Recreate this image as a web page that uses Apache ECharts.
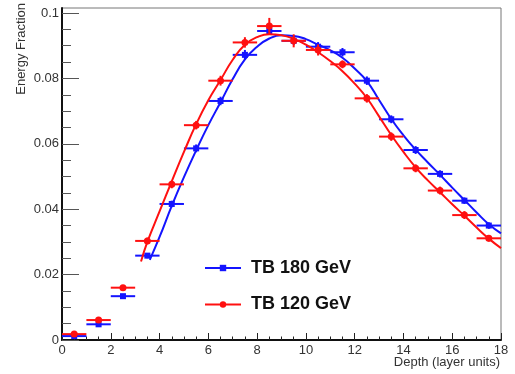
<!DOCTYPE html>
<html>
<head>
<meta charset="utf-8">
<script src="https://cdn.jsdelivr.net/npm/echarts@6/dist/echarts.min.js"></script>
<style>
html, body { margin: 0; padding: 0; background: #fff; }
#chart { width: 515px; height: 374px; }
</style>
</head>
<body>
<div id="chart"></div>
<script>
// Longitudinal shower profile: energy fraction per layer bin
const binCenters = [0.5, 1.5, 2.5, 3.5, 4.5, 5.5, 6.5, 7.5, 8.5, 9.5, 10.5, 11.5, 12.5, 13.5, 14.5, 15.5, 16.5, 17.5];
const binHalfWidth = 0.5;

const tb180Values = [0.0012, 0.0048, 0.0134, 0.0258, 0.0416, 0.0586, 0.0731, 0.0872, 0.0945, 0.0915, 0.0897, 0.0880, 0.0793, 0.0675, 0.0581, 0.0508, 0.0426, 0.0350];
const tb180Errors = [0.0003, 0.0004, 0.0006, 0.0008, 0.0010, 0.0012, 0.0013, 0.0015, 0.0012, 0.0013, 0.0014, 0.0013, 0.0013, 0.0012, 0.0012, 0.0011, 0.0010, 0.0010];

const tb120Values = [0.0018, 0.0061, 0.0160, 0.0303, 0.0476, 0.0657, 0.0793, 0.0910, 0.0960, 0.0915, 0.0887, 0.0843, 0.0739, 0.0622, 0.0525, 0.0457, 0.0382, 0.0311];
const tb120Errors = [0.0003, 0.0005, 0.0008, 0.0010, 0.0012, 0.0013, 0.0015, 0.0016, 0.0025, 0.0020, 0.0017, 0.0012, 0.0013, 0.0013, 0.0012, 0.0012, 0.0012, 0.0010];

// Fitted profile curves
const tb180FitX = [3.6, 4.0, 4.5, 5.0, 5.5, 6.0, 6.5, 7.0, 7.5, 8.0, 8.5, 9.0, 9.5, 10.0, 10.5, 11.0, 11.5, 12.0, 12.5, 13.0, 13.5, 14.0, 14.5, 15.0, 15.5, 16.0, 16.5, 17.0, 17.5, 18.0];
const tb180FitY = [0.0245, 0.0315, 0.0410, 0.0498, 0.0580, 0.0657, 0.0727, 0.0798, 0.0858, 0.0897, 0.0922, 0.0932, 0.0930, 0.0920, 0.0903, 0.0886, 0.0863, 0.0830, 0.0792, 0.0734, 0.0676, 0.0626, 0.0582, 0.0543, 0.0505, 0.0466, 0.0428, 0.0390, 0.0354, 0.0326];

const tb120FitX = [3.24, 3.5, 4.0, 4.5, 5.0, 5.5, 6.0, 6.5, 7.0, 7.5, 8.0, 8.5, 9.0, 9.5, 10.0, 10.5, 11.0, 11.5, 12.0, 12.5, 13.0, 13.5, 14.0, 14.5, 15.0, 15.5, 16.0, 16.5, 17.0, 17.5, 18.0];
const tb120FitY = [0.0240, 0.0300, 0.0393, 0.0485, 0.0575, 0.0660, 0.0733, 0.0795, 0.0857, 0.0903, 0.0926, 0.0935, 0.0932, 0.0921, 0.0903, 0.0880, 0.0853, 0.0822, 0.0784, 0.0740, 0.0684, 0.0627, 0.0575, 0.0528, 0.0488, 0.0452, 0.0415, 0.0380, 0.0344, 0.0310, 0.0281];

const xTickLabels = ['0', '2', '4', '6', '8', '10', '12', '14', '16', '18'];

const BLUE = '#1414ff';
const RED = '#ff1010';
const FONT = '"Liberation Sans", Arial, sans-serif';

function pointsOf(values, errors) {
  return binCenters.map((x, i) => [x, values[i], errors[i], binHalfWidth]);
}
function pairs(xs, ys) {
  return xs.map((x, i) => [x, ys[i]]);
}

// Marker with horizontal bin-width bar and vertical error bar
function errorBarRenderer(shape, size, color) {
  return function (params, api) {
    const x = api.value(0), y = api.value(1), e = api.value(2), hw = api.value(3);
    const l = api.coord([x - hw, y]);
    const r = api.coord([x + hw, y]);
    const t = api.coord([x, y + e]);
    const b = api.coord([x, y - e]);
    const c = api.coord([x, y]);
    const marker = shape === 'rect'
      ? { type: 'rect', shape: { x: c[0] - size / 2, y: c[1] - size / 2, width: size, height: size }, style: { fill: color } }
      : { type: 'circle', shape: { cx: c[0], cy: c[1], r: size / 2 }, style: { fill: color } };
    return {
      type: 'group',
      children: [
        { type: 'line', shape: { x1: l[0], y1: l[1], x2: r[0], y2: r[1] }, style: { stroke: color, lineWidth: 2 } },
        { type: 'line', shape: { x1: t[0], y1: t[1], x2: b[0], y2: b[1] }, style: { stroke: color, lineWidth: 2 } },
        marker
      ]
    };
  };
}

const chart = echarts.init(document.getElementById('chart'), null, { renderer: 'canvas' });

const labelStyle = { color: '#333', fontSize: 13, fontFamily: FONT };

chart.setOption({
  animation: false,
  backgroundColor: '#fff',
  grid: [
    // data grid: 0 .. 0.1
    { left: 62, right: 14, top: 13, bottom: 34, show: false },
    // frame grid: reaches slightly above 0.1
    { left: 62, right: 14, top: 8, bottom: 34, show: true, borderColor: '#777', borderWidth: 1, backgroundColor: 'transparent' }
  ],
  xAxis: [
    {
      gridIndex: 0, type: 'value', min: 0, max: 18, interval: 2,
      axisLine: { show: true, onZero: false, lineStyle: { color: '#111', width: 2 } },
      axisTick: { show: true, inside: true, length: 7, lineStyle: { color: '#222', width: 1 } },
      minorTick: { show: true, splitNumber: 4, length: 3.5, lineStyle: { color: '#222', width: 1 } },
      axisLabel: Object.assign({ margin: 4, formatter: (v) => xTickLabels[Math.round(v / 2)] }, labelStyle),
      splitLine: { show: false }
    },
    {
      gridIndex: 1, type: 'value', min: 0, max: 18, show: false
    }
  ],
  yAxis: [
    {
      gridIndex: 0, type: 'value', min: 0, max: 0.1, interval: 0.02,
      axisLine: { show: false },
      axisTick: { show: true, inside: true, length: 17, lineStyle: { color: '#555', width: 1 } },
      minorTick: { show: true, splitNumber: 4, length: 9, lineStyle: { color: '#555', width: 1 } },
      axisLabel: Object.assign({ margin: 3 }, labelStyle),
      splitLine: { show: false }
    },
    {
      gridIndex: 1, type: 'value', min: 0, max: 0.1,
      axisLine: { show: true, onZero: false, lineStyle: { color: '#111', width: 2 } },
      axisTick: { show: false },
      axisLabel: { show: false },
      splitLine: { show: false }
    }
  ],
  legend: {
    data: ['TB 180 GeV', 'TB 120 GeV'],
    orient: 'vertical',
    left: 199,
    top: 254,
    itemWidth: 36,
    itemHeight: 8,
    itemGap: 18.5,
    selectedMode: false,
    textStyle: { color: '#111', fontSize: 18, fontWeight: 'bold', fontFamily: FONT, padding: [0, 0, 0, 5] }
  },
  series: [
    {
      name: 'TB 180 GeV points', type: 'custom', xAxisIndex: 0, yAxisIndex: 0,
      renderItem: errorBarRenderer('rect', 6, BLUE),
      data: pointsOf(tb180Values, tb180Errors), z: 3
    },
    {
      name: 'TB 180 GeV', type: 'line', xAxisIndex: 0, yAxisIndex: 0,
      data: pairs(tb180FitX, tb180FitY), smooth: true,
      symbol: 'rect', showSymbol: false,
      itemStyle: { color: BLUE },
      lineStyle: { color: BLUE, width: 2 }, z: 3
    },
    {
      name: 'TB 120 GeV points', type: 'custom', xAxisIndex: 0, yAxisIndex: 0,
      renderItem: errorBarRenderer('circle', 7, RED),
      data: pointsOf(tb120Values, tb120Errors), z: 4
    },
    {
      name: 'TB 120 GeV', type: 'line', xAxisIndex: 0, yAxisIndex: 0,
      data: pairs(tb120FitX, tb120FitY), smooth: true,
      symbol: 'circle', showSymbol: false,
      itemStyle: { color: RED },
      lineStyle: { color: RED, width: 2 }, z: 4
    }
  ],
  graphic: [
    {
      type: 'text', left: 15, top: 3, rotation: Math.PI / 2,
      style: { text: 'Energy Fraction', fill: '#333', font: '13px ' + FONT }
    },
    {
      type: 'text', right: 15, top: 356,
      style: { text: 'Depth (layer units)', fill: '#333', font: '13px ' + FONT }
    }
  ]
});
</script>
</body>
</html>
